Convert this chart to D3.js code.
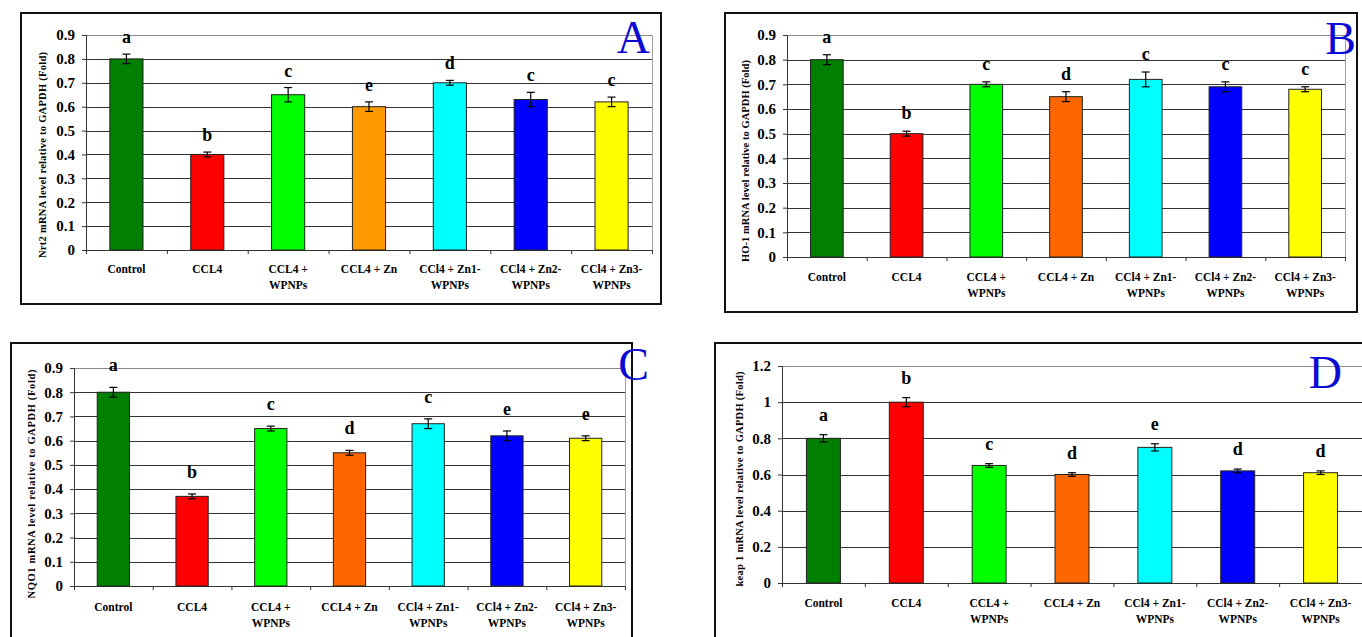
<!DOCTYPE html>
<html>
<head>
<meta charset="utf-8">
<script src="https://cdn.jsdelivr.net/npm/d3@7"></script>
<style>
  body { margin: 0; background: #fff; }
  svg { display: block; }
  text { font-family: 'Liberation Serif', 'Times New Roman', serif; }
</style>
</head>
<body>
<div id="chart"></div>
<script>
(function(d3) {
    'use strict';

    // Groups (same for all four panels)
    var categories = ['Control', 'CCL4', 'CCL4 + WPNPs', 'CCL4 + Zn',
        'CCl4 + Zn1-WPNPs', 'CCl4 + Zn2-WPNPs', 'CCl4 + Zn3-WPNPs'];
    var categoryLines = [['Control'], ['CCL4'], ['CCL4 +', 'WPNPs'], ['CCL4 + Zn'],
        ['CCl4 + Zn1-', 'WPNPs'], ['CCl4 + Zn2-', 'WPNPs'], ['CCl4 + Zn3-', 'WPNPs']];

    // Panel A - Nrf2
    var nrf2Values = [0.80, 0.40, 0.65, 0.60, 0.70, 0.63, 0.62];
    var nrf2Errors = [0.02, 0.01, 0.03, 0.02, 0.01, 0.03, 0.02];
    var nrf2Letters = ['a', 'b', 'c', 'e', 'd', 'c', 'c'];

    // Panel B - HO-1
    var ho1Values = [0.80, 0.50, 0.70, 0.65, 0.72, 0.69, 0.68];
    var ho1Errors = [0.02, 0.01, 0.01, 0.02, 0.03, 0.02, 0.01];
    var ho1Letters = ['a', 'b', 'c', 'd', 'c', 'c', 'c'];

    // Panel C - NQO1
    var nqo1Values = [0.80, 0.37, 0.65, 0.55, 0.67, 0.62, 0.61];
    var nqo1Errors = [0.02, 0.01, 0.01, 0.01, 0.02, 0.02, 0.01];
    var nqo1Letters = ['a', 'b', 'c', 'd', 'c', 'e', 'e'];

    // Panel D - keap 1
    var keapValues = [0.80, 1.00, 0.65, 0.60, 0.75, 0.62, 0.61];
    var keapErrors = [0.02, 0.025, 0.01, 0.01, 0.02, 0.01, 0.01];
    var keapLetters = ['a', 'b', 'c', 'd', 'e', 'd', 'd'];

    // Axis ticks
    var ticksFine = [0, 0.1, 0.2, 0.3, 0.4, 0.5, 0.6, 0.7, 0.8, 0.9];
    var ticksCoarse = [0, 0.2, 0.4, 0.6, 0.8, 1.0, 1.2];

    // Bar colours
    var colorsA = ['#007f00', '#ff0000', '#00ff00', '#ff9900', '#00ffff', '#0000ff', '#ffff00'];
    var colorsB = ['#007f00', '#ff0000', '#00ff00', '#ff6600', '#00ffff', '#0000ff', '#ffff00'];

    var width = 1362;
    var height = 637;

    var svg = d3.select('#chart')
        .append('svg')
        .attr('width', width)
        .attr('height', height);

    // Layout of each panel (pixels)
    var panels = [
        { values: nrf2Values, errors: nrf2Errors, letters: nrf2Letters, colors: colorsA,
          ticks: ticksFine, max: 0.9, tag: 'A',
          title: 'Nrt2 mRNA level relative to GAPDH (Fold)',
          frame: [21, 13, 661, 304], plot: [86, 35, 652, 250],
          titleX: 42, titleY: 155, titleLen: 206, labelY: 269, letterGap: 11,
          tagX: 650, tagY: 53 },
        { values: ho1Values, errors: ho1Errors, letters: ho1Letters, colors: colorsB,
          ticks: ticksFine, max: 0.9, tag: 'B',
          title: 'HO-1 mRNA level relative to GAPDH (Fold)',
          frame: [725, 13, 1357, 312], plot: [787, 35, 1345, 257],
          titleX: 745, titleY: 161, titleLen: 202, labelY: 277, letterGap: 12,
          tagX: 1356, tagY: 54 },
        { values: nqo1Values, errors: nqo1Errors, letters: nqo1Letters, colors: colorsB,
          ticks: ticksFine, max: 0.9, tag: 'C',
          title: 'NQO1 mRNA level relative to GAPDH (Fold)',
          frame: [11, 343, 632, 660], plot: [74, 368, 625, 586],
          titleX: 31, titleY: 484, titleLen: 229, labelY: 607, letterGap: 16,
          tagX: 649, tagY: 380 },
        { values: keapValues, errors: keapErrors, letters: keapLetters, colors: colorsB,
          ticks: ticksCoarse, max: 1.2, tag: 'D',
          title: 'keap 1 mRNA level relative to GAPDH (Fold)',
          frame: [715, 343, 1380, 660], plot: [782, 366, 1362, 583],
          titleX: 739, titleY: 479, titleLen: 215, labelY: 603, letterGap: 14,
          tagX: 1342, tagY: 388 }
    ];

    var tickFormat = function(d) { return String(+d.toFixed(1)); };

    panels.forEach(function(p) {
        var g = svg.append('g');
        var pl = p.plot[0], pt = p.plot[1], pr = p.plot[2], pb = p.plot[3];

        // Outer frame
        g.append('rect')
            .attr('x', p.frame[0])
            .attr('y', p.frame[1])
            .attr('width', p.frame[2] - p.frame[0])
            .attr('height', p.frame[3] - p.frame[1])
            .attr('fill', 'none')
            .attr('stroke', '#111')
            .attr('stroke-width', 2);

        var x = d3.scaleBand()
            .domain(categories)
            .range([pl, pr])
            .padding(0);
        var y = d3.scaleLinear()
            .domain([0, p.max])
            .range([pb, pt]);
        var barWidth = x.bandwidth() * 0.41;

        // Gridlines
        g.selectAll('.grid')
            .data(p.ticks.filter(function(d) { return d > 0; }))
            .enter()
            .append('line')
            .attr('x1', pl)
            .attr('x2', pr)
            .attr('y1', function(d) { return Math.round(y(d)) + 0.5; })
            .attr('y2', function(d) { return Math.round(y(d)) + 0.5; })
            .attr('stroke', function(d, i, all) { return i === all.length - 1 ? '#8a8a8a' : '#333'; })
            .attr('stroke-width', 1.2);

        // Plot area right border
        g.append('line')
            .attr('x1', pr + 0.5).attr('x2', pr + 0.5)
            .attr('y1', pt).attr('y2', pb)
            .attr('stroke', '#a0a0a0');

        // Y axis
        var yAxis = g.append('g')
            .attr('transform', 'translate(' + pl + ',0)')
            .call(d3.axisLeft(y)
                .tickValues(p.ticks)
                .tickFormat(tickFormat)
                .tickSize(4)
                .tickPadding(7));
        yAxis.select('.domain').attr('stroke', '#333');
        yAxis.selectAll('.tick line').attr('stroke', '#333');
        yAxis.selectAll('text')
            .attr('fill', '#000')
            .style('font-family', "'Liberation Serif', serif")
            .style('font-weight', 'bold')
            .style('font-size', '15px');

        // X axis: baseline with ticks on band edges
        var edges = d3.scaleLinear().domain([0, categories.length]).range([pl, pr]);
        var xAxis = g.append('g')
            .attr('transform', 'translate(0,' + pb + ')')
            .call(d3.axisBottom(edges)
                .tickValues(d3.range(categories.length + 1))
                .tickFormat('')
                .tickSize(4)
                .tickSizeOuter(0));
        xAxis.select('.domain').attr('stroke', '#333');
        xAxis.selectAll('.tick line').attr('stroke', '#333');

        // Category labels
        var labels = g.selectAll('.xlabel')
            .data(categories)
            .enter()
            .append('text')
            .attr('text-anchor', 'middle')
            .attr('font-weight', 'bold')
            .attr('font-size', '12.5px')
            .attr('fill', '#000')
            .attr('transform', function(d) {
                return 'translate(' + (x(d) + x.bandwidth() / 2) + ',' + (p.labelY + 4) + ') scale(0.92,1)';
            });
        labels.each(function(d, i) {
            var t = d3.select(this);
            categoryLines[i].forEach(function(line, j) {
                t.append('tspan')
                    .attr('x', 0)
                    .attr('y', j * 16)
                    .text(line);
            });
        });

        // Bars
        g.selectAll('.bar')
            .data(categories)
            .enter()
            .append('rect')
            .attr('x', function(d) { return x(d) + (x.bandwidth() - barWidth) / 2; })
            .attr('y', function(d, i) { return y(p.values[i]); })
            .attr('width', barWidth)
            .attr('height', function(d, i) { return y(0) - y(p.values[i]); })
            .attr('fill', function(d, i) { return p.colors[i]; })
            .attr('stroke', '#222')
            .attr('stroke-width', 1);

        // Error bars
        var err = g.selectAll('.err')
            .data(categories)
            .enter()
            .append('g')
            .attr('stroke', '#000')
            .attr('stroke-width', 1.2);
        err.append('line')
            .attr('x1', function(d) { return x(d) + x.bandwidth() / 2; })
            .attr('x2', function(d) { return x(d) + x.bandwidth() / 2; })
            .attr('y1', function(d, i) { return y(p.values[i] - p.errors[i]); })
            .attr('y2', function(d, i) { return y(p.values[i] + p.errors[i]); });
        [1, -1].forEach(function(sign) {
            err.append('line')
                .attr('x1', function(d) { return x(d) + x.bandwidth() / 2 - 4; })
                .attr('x2', function(d) { return x(d) + x.bandwidth() / 2 + 4; })
                .attr('y1', function(d, i) { return y(p.values[i] + sign * p.errors[i]); })
                .attr('y2', function(d, i) { return y(p.values[i] + sign * p.errors[i]); });
        });

        // Significance letters
        g.selectAll('.letter')
            .data(categories)
            .enter()
            .append('text')
            .attr('x', function(d) { return x(d) + x.bandwidth() / 2; })
            .attr('y', function(d, i) { return y(p.values[i] + p.errors[i]) - p.letterGap; })
            .attr('text-anchor', 'middle')
            .attr('font-weight', 'bold')
            .attr('font-size', '18px')
            .attr('fill', '#000')
            .text(function(d, i) { return p.letters[i]; });

        // Y axis title
        g.append('text')
            .attr('transform', 'translate(' + p.titleX + ',' + p.titleY + ') rotate(-90)')
            .attr('text-anchor', 'middle')
            .attr('dy', '0.35em')
            .attr('font-weight', 'bold')
            .attr('font-size', '10.5px')
            .attr('textLength', p.titleLen)
            .attr('lengthAdjust', 'spacing')
            .attr('fill', '#000')
            .text(p.title);

        // Panel tag
        g.append('text')
            .attr('x', p.tagX)
            .attr('y', p.tagY)
            .attr('text-anchor', 'end')
            .attr('font-size', '46px')
            .attr('fill', '#0a0ad2')
            .text(p.tag);
    });

})(window.d3);
</script>
</body>
</html>
